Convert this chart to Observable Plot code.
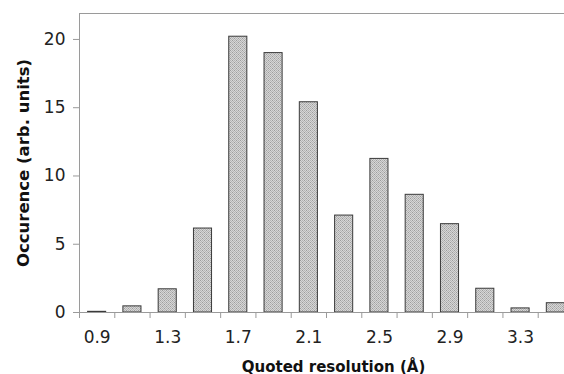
<!DOCTYPE html>
<html>
<head>
<meta charset="utf-8">
<script src="https://cdn.jsdelivr.net/npm/d3@7"></script>
<script src="https://cdn.jsdelivr.net/npm/@observablehq/plot@0.6"></script>
<style>
  html, body { margin: 0; padding: 0; background: #fff; overflow: hidden; width: 564px; height: 374px; }
  #chart svg { display: block; max-width: none !important; }
</style>
</head>
<body>
<div id="chart"></div>
<script>
// Resolution bin centres (Å)
const resolution = [0.9, 1.1, 1.3, 1.5, 1.7, 1.9, 2.1, 2.3, 2.5, 2.7, 2.9, 3.1, 3.3, 3.5];
// Occurrence (arb. units)
const occurrence = [0.05, 0.45, 1.7, 6.15, 20.2, 19.0, 15.4, 7.1, 11.25, 8.62, 6.47, 1.74, 0.3, 0.68];
// Tick labels
const xTickLabels = ["0.9", "1.3", "1.7", "2.1", "2.5", "2.9", "3.3"];
const yTicks = [0, 5, 10, 15, 20];
const binWidth = 0.2;

const data = resolution.map((r, i) => ({r, v: occurrence[i]}));
const boundaries = resolution.map(r => +(r - binWidth / 2).toFixed(2)).concat([+(resolution[resolution.length - 1] + binWidth / 2).toFixed(2)]);

const font = "'DejaVu Sans', Verdana, sans-serif";
const axisColor = "#9a9a9a";

const plot = Plot.plot({
  width: 580,
  height: 374,
  marginLeft: 79,
  marginRight: 7,
  marginTop: 13,
  marginBottom: 62,
  style: {fontFamily: font, fontSize: "17px", color: "#222", background: "#fff", maxWidth: "none"},
  x: {type: "linear", domain: [boundaries[0], boundaries[boundaries.length - 1]]},
  y: {domain: [0, 21.9]},
  marks: [
    Plot.rectY(data, {
      x1: d => d.r - binWidth / 2,
      x2: d => d.r + binWidth / 2,
      y: "v",
      insetLeft: 8.6,
      insetRight: 8.6,
      fill: "url(#dotpat)",
      stroke: "#3a3a3a",
      strokeWidth: 1
    }),
    Plot.ruleY([0], {stroke: axisColor}),
    Plot.ruleY([21.9], {stroke: axisColor}),
    Plot.ruleX([boundaries[0]], {stroke: axisColor}),
    Plot.axisX({ticks: boundaries, tickSize: 6, tickFormat: () => "", stroke: axisColor, label: null}),
    Plot.axisX({ticks: xTickLabels.map(Number), tickFormat: (d) => xTickLabels.find(t => +t === d), tickSize: 0, tickPadding: 18, label: null, fill: "#222"}),
    Plot.axisY({ticks: yTicks, tickSize: 6, tickPadding: 8, stroke: axisColor, label: null, fill: "#222"}),
    Plot.text(["Occurence (arb. units)"], {frameAnchor: "left", textAnchor: "middle", rotate: -90, dx: -56, fontWeight: "bold", fontSize: 16.5, fill: "#111"}),
    Plot.text(["Quoted resolution (Å)"], {frameAnchor: "bottom", textAnchor: "middle", dy: 59, dx: 7, fontWeight: "bold", fontSize: 15, fill: "#111"})
  ]
});

// pattern for bar fill
const ns = "http://www.w3.org/2000/svg";
const defs = document.createElementNS(ns, "defs");
const pat = document.createElementNS(ns, "pattern");
pat.setAttribute("id", "dotpat");
pat.setAttribute("patternUnits", "userSpaceOnUse");
pat.setAttribute("width", "4");
pat.setAttribute("height", "4");
const bg = document.createElementNS(ns, "rect");
bg.setAttribute("width", "4"); bg.setAttribute("height", "4"); bg.setAttribute("fill", "#d6d6d6");
pat.appendChild(bg);
[[0,0,"#9c9c9c"],[2,0,"#b4b4b4"],[1,1,"#b4b4b4"],[3,1,"#b4b4b4"],[0,2,"#b4b4b4"],[2,2,"#9c9c9c"],[1,3,"#b4b4b4"],[3,3,"#b4b4b4"]].forEach(([x,y,c]) => {
  const p = document.createElementNS(ns, "rect");
  p.setAttribute("x", x); p.setAttribute("y", y);
  p.setAttribute("width", "1"); p.setAttribute("height", "1");
  p.setAttribute("fill", c);
  pat.appendChild(p);
});
defs.appendChild(pat);
plot.insertBefore(defs, plot.firstChild);

document.getElementById("chart").appendChild(plot);
</script>
</body>
</html>
